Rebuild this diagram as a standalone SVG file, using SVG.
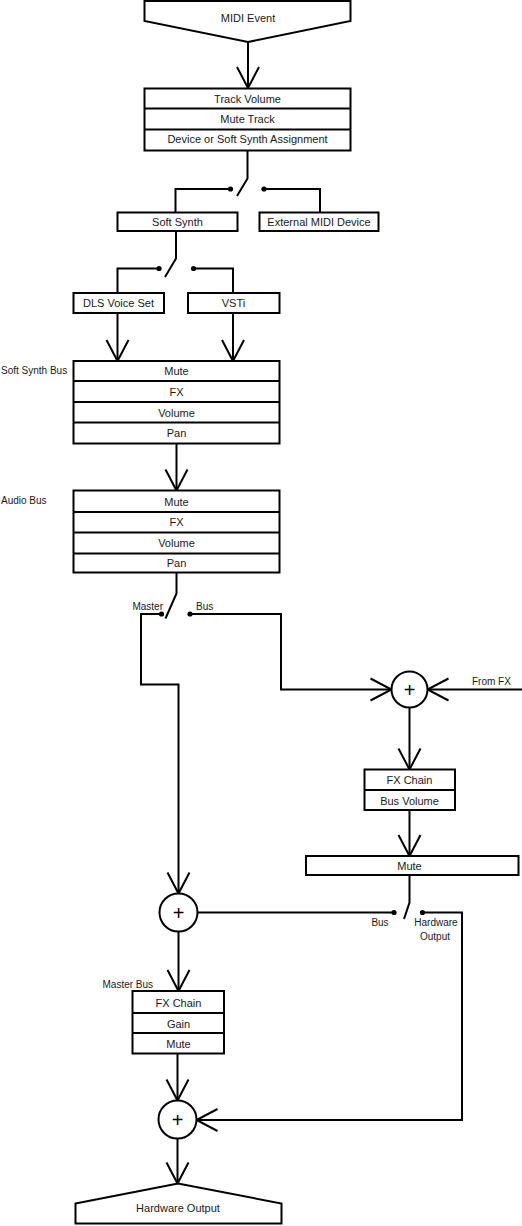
<svg xmlns="http://www.w3.org/2000/svg" width="522" height="1226" viewBox="0 0 522 1226">
<style>
.box{fill:#fff;stroke:#000;stroke-width:2}
.div{stroke:#000;stroke-width:2}
.w{fill:none;stroke:#000;stroke-width:2}
.t{font-family:"Liberation Sans",Arial,sans-serif;font-size:11px;fill:#1a1a1a;text-anchor:middle}
.l{font-family:"Liberation Sans",Arial,sans-serif;font-size:10px;fill:#1a1a1a}
.p{font-family:"Liberation Sans",Arial,sans-serif;font-size:20px;fill:#000;text-anchor:middle}
.dot{fill:#000}
</style>
<defs>
<marker id="ah" markerUnits="userSpaceOnUse" markerWidth="30" markerHeight="30" viewBox="-25 -15 30 30" refX="0" refY="0" orient="auto" overflow="visible">
<path d="M-21,-11 L0,0 L-21,11" fill="none" stroke="#000" stroke-width="2"/>
</marker>
</defs>
<rect width="522" height="1226" fill="#fff"/>

<g id="connectors">
<path class="w" d="M248,42 V88" marker-end="url(#ah)"/>
<path class="w" d="M247.5,150.5 V178.5 L237,196"/>
<path class="w" d="M230.5,189 H175.5 V212.5"/>
<path class="w" d="M264,189 H320 V212.5"/>
<path class="w" d="M176,231 V258.5 L165,277"/>
<path class="w" d="M159,268.5 H117.5 V293"/>
<path class="w" d="M193.5,268.5 H233 V293"/>
<path class="w" d="M117.5,313 V361" marker-end="url(#ah)"/>
<path class="w" d="M233,313 V361" marker-end="url(#ah)"/>
<path class="w" d="M176.5,443.5 V490.5" marker-end="url(#ah)"/>
<path class="w" d="M176.5,572.5 V593.5 L165.5,618.5"/>
<path class="w" d="M161.5,614 H141 V684.5 H178.5 V893.5" marker-end="url(#ah)"/>
<path class="w" d="M190,614 H281 V689.5 H391.5" marker-end="url(#ah)"/>
<path class="w" d="M522,689.5 H427.5" marker-end="url(#ah)"/>
<path class="w" d="M409.5,707.5 V769.5" marker-end="url(#ah)"/>
<path class="w" d="M409.5,810 V856" marker-end="url(#ah)"/>
<path class="w" d="M409.5,875 V902.5 L404,919"/>
<path class="w" d="M394,912.5 H197.5"/>
<path class="w" d="M422.5,912.5 H462 V1120 H196.5" marker-end="url(#ah)"/>
<path class="w" d="M178.5,931.5 V991" marker-end="url(#ah)"/>
<path class="w" d="M177.5,1053.5 V1100.5" marker-end="url(#ah)"/>
<path class="w" d="M177.5,1138.5 V1183.5" marker-end="url(#ah)"/>
<circle class="dot" cx="230.5" cy="189" r="2.6"/>
<circle class="dot" cx="264" cy="189" r="2.6"/>
<circle class="dot" cx="159" cy="268.5" r="2.6"/>
<circle class="dot" cx="193.5" cy="268.5" r="2.6"/>
<circle class="dot" cx="161.5" cy="614" r="2.6"/>
<circle class="dot" cx="190" cy="614" r="2.6"/>
<circle class="dot" cx="394" cy="912.5" r="2.6"/>
<circle class="dot" cx="422.5" cy="912.5" r="2.6"/>
</g>

<g id="midi-event">
<polygon class="box" points="144.5,1 350.5,1 350.5,21 248,42 144.5,21"/>
<text class="t" x="248" y="21.5">MIDI Event</text>
</g>

<g id="track">
<rect class="box" x="144.5" y="88.5" width="206" height="62"/>
<line class="div" x1="144.5" y1="108.5" x2="350.5" y2="108.5"/>
<line class="div" x1="144.5" y1="129.5" x2="350.5" y2="129.5"/>
<text class="t" x="247.5" y="102.5">Track Volume</text>
<text class="t" x="247.5" y="122.5">Mute Track</text>
<text class="t" x="247.5" y="143">Device or Soft Synth Assignment</text>
</g>

<g id="soft-synth">
<rect class="box" x="117.5" y="212.5" width="120" height="18.5"/>
<text class="t" x="177.5" y="225.5">Soft Synth</text>
</g>

<g id="external-midi">
<rect class="box" x="259.5" y="212.5" width="119" height="18.5"/>
<text class="t" x="319" y="225.5">External MIDI Device</text>
</g>

<g id="dls">
<rect class="box" x="73.5" y="293" width="90.5" height="20"/>
<text class="t" x="118.5" y="307">DLS Voice Set</text>
</g>

<g id="vsti">
<rect class="box" x="188" y="293" width="91.5" height="20"/>
<text class="t" x="233.5" y="307">VSTi</text>
</g>

<g id="soft-synth-bus">
<text class="l" x="1" y="374">Soft Synth Bus</text>
<rect class="box" x="73.5" y="361" width="206" height="82.5"/>
<line class="div" x1="73.5" y1="381" x2="279.5" y2="381"/>
<line class="div" x1="73.5" y1="402" x2="279.5" y2="402"/>
<line class="div" x1="73.5" y1="422.5" x2="279.5" y2="422.5"/>
<text class="t" x="176.5" y="374.5">Mute</text>
<text class="t" x="176.5" y="396">FX</text>
<text class="t" x="176.5" y="417">Volume</text>
<text class="t" x="176.5" y="436.5">Pan</text>
</g>

<g id="audio-bus">
<text class="l" x="1" y="504">Audio Bus</text>
<rect class="box" x="73.5" y="490.5" width="206" height="82"/>
<line class="div" x1="73.5" y1="512" x2="279.5" y2="512"/>
<line class="div" x1="73.5" y1="532.5" x2="279.5" y2="532.5"/>
<line class="div" x1="73.5" y1="553.5" x2="279.5" y2="553.5"/>
<text class="t" x="176.5" y="505.5">Mute</text>
<text class="t" x="176.5" y="526">FX</text>
<text class="t" x="176.5" y="547">Volume</text>
<text class="t" x="176.5" y="567">Pan</text>
</g>

<g id="switch-labels">
<text class="l" x="163" y="610" text-anchor="end">Master</text>
<text class="l" x="196" y="610">Bus</text>
<text class="l" x="472" y="684.5">From FX</text>
<text class="l" x="380" y="926" text-anchor="middle">Bus</text>
<text class="l" x="436" y="926" text-anchor="middle">Hardware</text>
<text class="l" x="435" y="939.5" text-anchor="middle">Output</text>
</g>

<g id="sum1">
<circle class="box" cx="409.5" cy="689.5" r="18"/>
<text class="p" x="409.5" y="696.5">+</text>
</g>

<g id="fx-chain">
<rect class="box" x="364.5" y="769.5" width="90.5" height="40.5"/>
<line class="div" x1="364.5" y1="790" x2="455" y2="790"/>
<text class="t" x="409.5" y="784">FX Chain</text>
<text class="t" x="409.5" y="804.5">Bus Volume</text>
</g>

<g id="mute-bus">
<rect class="box" x="306" y="856" width="212.5" height="19"/>
<text class="t" x="409.5" y="869.5">Mute</text>
</g>

<g id="sum2">
<circle class="box" cx="178.5" cy="912.5" r="19"/>
<text class="p" x="178.5" y="919.5">+</text>
</g>

<g id="master-bus">
<text class="l" x="102.5" y="988">Master Bus</text>
<rect class="box" x="132.5" y="991" width="91.5" height="62.5"/>
<line class="div" x1="132.5" y1="1013" x2="224" y2="1013"/>
<line class="div" x1="132.5" y1="1033" x2="224" y2="1033"/>
<text class="t" x="178.5" y="1007">FX Chain</text>
<text class="t" x="178.5" y="1027.5">Gain</text>
<text class="t" x="178.5" y="1047.5">Mute</text>
</g>

<g id="sum3">
<circle class="box" cx="177.5" cy="1119.5" r="19"/>
<text class="p" x="177.5" y="1126.5">+</text>
</g>

<g id="hardware-output">
<polygon class="box" points="75.5,1203.5 178,1183.5 281.5,1203.5 281.5,1223.5 75.5,1223.5"/>
<text class="t" x="178" y="1212">Hardware Output</text>
</g>
</svg>
